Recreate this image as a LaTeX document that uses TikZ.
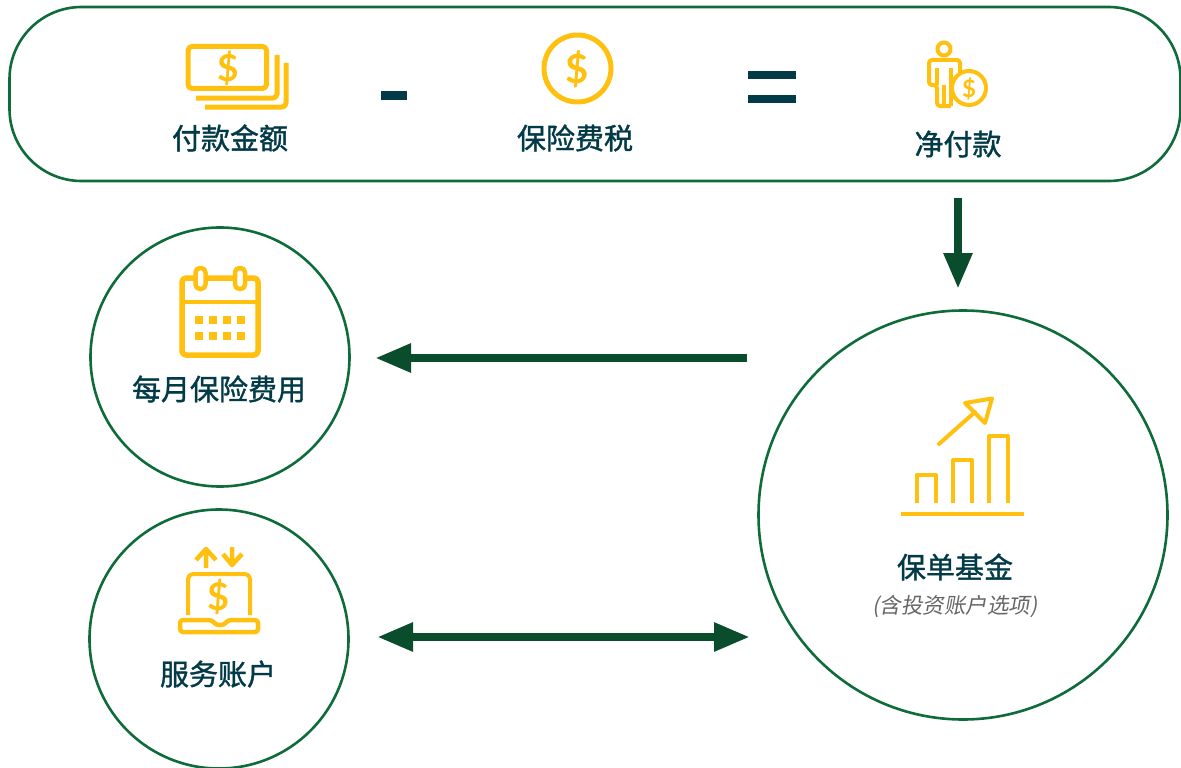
\documentclass[tikz,border=0pt]{standalone}
\usepackage{fontspec}
\usepackage{tikz}
\usetikzlibrary{arrows.meta,positioning}
\newfontfamily\cjk[FakeBold=1.3]{Noto Sans CJK SC}
\newfontfamily\cjkthin[FakeSlant=0.18]{Noto Sans CJK SC}
\newfontfamily\iconfont{Lato}
\definecolor{linegreen}{HTML}{0E6B3A}
\definecolor{arrowgreen}{HTML}{0A4D2C}
\definecolor{iconyellow}{HTML}{FFC010}
\definecolor{labelteal}{HTML}{023B47}
\tikzset{
  ring/.style={draw=linegreen,line width=2.6pt,circle,inner sep=0pt},
  caption/.style={text=labelteal,font=\cjk\fontsize{29}{30}\selectfont,inner sep=0pt},
  flow/.style={draw=arrowgreen,line width=8.5pt},
  flowtip/.tip={Triangle[length=36pt,width=27pt]},
  icon/.style={draw=iconyellow,line width=#1,line join=round},
  dollar/.style={text=iconyellow,font=\iconfont\bfseries\fontsize{#1}{#1}\selectfont,inner sep=0pt},
  bar/.style={fill=labelteal}
}
\begin{document}
\begin{tikzpicture}[x=1pt,y=-1pt]
  \useasboundingbox (0,0) rectangle (1181,768);
  % outlines
  \node[draw=linegreen,line width=2.6pt,rounded corners=72pt,minimum width=1171pt,minimum height=174pt,inner sep=0pt] (paybox) at (595,94) {};
  \node[ring,minimum size=259pt] (premium) at (220,357) {};
  \node[ring,minimum size=259pt] (account) at (219,639) {};
  \node[ring,minimum size=409pt] (fund) at (963,515) {};

  % top row
  \draw[icon=5pt,rounded corners=4pt] (188,46.5) rectangle (266.5,88.5);
  \draw[icon=5pt,rounded corners=4pt] (196,98) -- (277,98) -- (277,55);
  \draw[icon=5pt,rounded corners=4pt] (205,107) -- (286,107) -- (286,63);
  \node[dollar=37] (cashsign) at (228,68) {\$};
  \node[caption] (gross) at (230,138) {付款金额};

  \fill[bar] (381,91) rectangle (407,100);

  \draw[icon=5pt] (577.5,68.5) circle (33.5);
  \node[dollar=40] (coinsign) at (577.5,69) {\$};
  \node[caption] (tax) at (575,138) {保险费税};

  \fill[bar] (748,71) rectangle (796,79);
  \fill[bar] (748,95) rectangle (796,103);

  \draw[icon=4pt] (944,49) circle (6.5);
  \draw[icon=4pt,rounded corners=3pt] (951,106) -- (937,106) -- (937,85) -- (929,85) -- (929,60) -- (960,60) -- (960,72);
  \draw[icon=4pt] (937,68) -- (937,85) (944,85) -- (944,106) (951,68) -- (951,106);
  \draw[icon=4pt,fill=white] (969,88) circle (17);
  \node[dollar=24] (netsign) at (969,88.5) {\$};
  \node[caption] (net) at (958,144) {净付款};

  % calendar
  \draw[icon=5.5pt,rounded corners=4pt] (182,278) rectangle (258,355);
  \draw[icon=3.5pt] (182,302) -- (258,302);
  \draw[icon=4.5pt,fill=white,rounded corners=4.5pt] (195.5,268) rectangle (205.5,289);
  \draw[icon=4.5pt,fill=white,rounded corners=4.5pt] (235,268) rectangle (245,289);
  \foreach \x in {195,209,223,237} {
    \fill[iconyellow] (\x,316) rectangle ++(8,8);
    \fill[iconyellow] (\x,332) rectangle ++(8,8);
  }
  \node[caption] (monthly) at (219,389) {每月保险费用};

  % laptop
  \draw[icon=4pt,rounded corners=5pt] (188,615) -- (188,574) -- (250,574) -- (250,615);
  \draw[icon=4.5pt,rounded corners=3pt] (180,620) -- (212,620) -- (216,625) -- (224,625) -- (228,620) -- (258,620) -- (258,632) -- (180,632) -- cycle;
  \node[dollar=38] (laptopsign) at (218.5,597) {\$};
  \draw[icon=4.5pt] (206,568) -- (206,549) (196,560) -- (206,549) -- (216,560);
  \draw[icon=4.5pt] (232,547) -- (232,565) (223,554) -- (232,565) -- (242,554);
  \node[caption] (service) at (218,674) {服务账户};

  % chart
  \draw[icon=4pt] (917,503) -- (917,475) -- (936,475) -- (936,503);
  \draw[icon=4pt] (953,503) -- (953,460) -- (972,460) -- (972,503);
  \draw[icon=4pt] (989,503) -- (989,436) -- (1008,436) -- (1008,503);
  \draw[icon=3.5pt] (901,514) -- (1024,514);
  \draw[icon=4pt,line cap=round] (939,444) -- (975,412);
  \draw[icon=4pt] (965,403) -- (992,398.5) -- (985,423) -- cycle;
  \node[caption] (policy) at (955,567) {保单基金};
  \node[text=black!60,font=\cjkthin\fontsize{21.5}{22}\selectfont,inner sep=0pt] (invest) at (955,607) {(含投资账户选项)};

  % connectors
  \coordinate (downstart) at (958,198);
  \coordinate (downend) at (958,289);
  \coordinate (feestart) at (747,358);
  \coordinate (feeend) at (375,358);
  \coordinate (swapleft) at (377,637);
  \coordinate (swapright) at (750,637);
  \draw[flow,-{flowtip}] (downstart) -- (downend);
  \draw[flow,-{flowtip}] (feestart) -- (feeend);
  \draw[flow,{flowtip}-{flowtip}] (swapleft) -- (swapright);
\end{tikzpicture}
\end{document}
